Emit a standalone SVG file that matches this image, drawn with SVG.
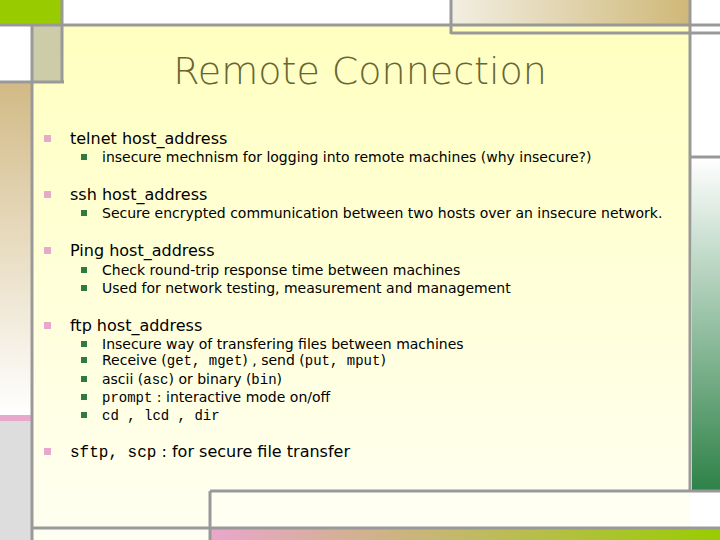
<svg xmlns="http://www.w3.org/2000/svg" width="720" height="540" viewBox="0 0 720 540">
<defs>
<linearGradient id="bg" x1="0" y1="0" x2="0" y2="1"><stop offset="0" stop-color="#ffffc0"/><stop offset="1" stop-color="#fffff2"/></linearGradient>
<linearGradient id="tan" x1="0" y1="0" x2="0" y2="1"><stop offset="0" stop-color="#d2ba86"/><stop offset="1" stop-color="#ffffff"/></linearGradient>
<linearGradient id="tanh" x1="0" y1="0" x2="1" y2="0"><stop offset="0" stop-color="#f2eee2"/><stop offset="1" stop-color="#cfb878"/></linearGradient>
<linearGradient id="grn" x1="0" y1="0" x2="0" y2="1"><stop offset="0" stop-color="#ffffff"/><stop offset="1" stop-color="#2e8248"/></linearGradient>
<linearGradient id="pg" x1="0" y1="0" x2="1" y2="0"><stop offset="0" stop-color="#eaa6cc"/><stop offset="1" stop-color="#99cc00"/></linearGradient>
<style>
.g{stroke:#999;stroke-width:3;fill:none}
.t{font-family:"DejaVu Sans","Liberation Sans",sans-serif;fill:#000}
.l1{font-size:16px}.l2{font-size:14px}
.m{font-family:"Liberation Mono",monospace}
.b1{fill:#e8a8cc}.b2{fill:#2f7a42}
</style>
</defs>
<rect width="720" height="540" fill="#fff"/>
<rect x="33" y="25" width="657" height="515" fill="url(#bg)"/>
<rect x="0" y="0" width="62" height="24" fill="#99cc00"/>
<rect x="33" y="25" width="30" height="57" fill="#cccca8"/>
<rect x="0" y="83" width="31" height="332" fill="url(#tan)"/>
<rect x="0" y="415" width="31" height="6" fill="#e8a8cc"/>
<rect x="0" y="421" width="31" height="119" fill="#dddddd"/>
<rect x="451" y="0" width="238" height="24" fill="url(#tanh)"/>
<rect x="692" y="158" width="28" height="332" fill="url(#grn)"/>
<rect x="210" y="492" width="479" height="36" fill="#fffff2"/>
<rect x="210" y="529" width="510" height="11" fill="url(#pg)"/>
<g id="frame" class="g">
<line x1="62" y1="0" x2="62" y2="82"/>
<line x1="0" y1="25" x2="720" y2="25"/>
<line x1="0" y1="82" x2="64" y2="82"/>
<line x1="32" y1="25" x2="32" y2="540"/>
<line x1="451" y1="0" x2="451" y2="34"/>
<line x1="451" y1="33" x2="720" y2="33"/>
<line x1="690" y1="0" x2="690" y2="492"/>
<line x1="690" y1="157" x2="720" y2="157"/>
<line x1="210" y1="491" x2="720" y2="491"/>
<line x1="210" y1="491" x2="210" y2="540"/>
<line x1="32" y1="528" x2="720" y2="528"/>
</g>
<text x="360" y="84" text-anchor="middle" style="font-family:'DejaVu Sans','Liberation Sans',sans-serif;font-size:38px;font-weight:200;fill:#666633">Remote Connection</text>
<g id="bullets">
<rect class="b1" x="44" y="135" width="7" height="7"/>
<rect class="b1" x="44" y="191" width="7" height="7"/>
<rect class="b1" x="44" y="247" width="7" height="7"/>
<rect class="b1" x="44" y="322" width="7" height="7"/>
<rect class="b1" x="44" y="448" width="7" height="7"/>
<rect class="b2" x="81" y="154" width="6" height="6"/>
<rect class="b2" x="81" y="210" width="6" height="6"/>
<rect class="b2" x="81" y="267" width="6" height="6"/>
<rect class="b2" x="81" y="285" width="6" height="6"/>
<rect class="b2" x="81" y="341" width="6" height="6"/>
<rect class="b2" x="81" y="357" width="6" height="6"/>
<rect class="b2" x="81" y="376" width="6" height="6"/>
<rect class="b2" x="81" y="394" width="6" height="6"/>
<rect class="b2" x="81" y="412" width="6" height="6"/>
</g>
<g id="text" class="t">
<text class="l1" x="70" y="144">telnet host_address</text>
<text class="l2" x="102" y="162">insecure mechnism for logging into remote machines (why insecure?)</text>
<text class="l1" x="70" y="200">ssh host_address</text>
<text class="l2" x="102" y="218">Secure encrypted communication between two hosts over an insecure network.</text>
<text class="l1" x="70" y="256">Ping host_address</text>
<text class="l2" x="102" y="275">Check round-trip response time between machines</text>
<text class="l2" x="102" y="293">Used for network testing, measurement and management</text>
<text class="l1" x="70" y="331">ftp host_address</text>
<text class="l2" x="102" y="349">Insecure way of transfering files between machines</text>
<text class="l2" x="102" y="365">Receive (<tspan class="m">get, mget</tspan>) , send (<tspan class="m">put, mput</tspan>)</text>
<text class="l2" x="102" y="384">ascii (<tspan class="m">asc</tspan>) or binary (<tspan class="m">bin</tspan>)</text>
<text class="l2" x="102" y="402"><tspan class="m">prompt</tspan> : interactive mode on/off</text>
<text class="l2 m" x="102" y="420">cd , lcd , dir</text>
<text class="l1" x="70" y="457"><tspan class="m">sftp, scp</tspan> : for secure file transfer</text>
</g>
</svg>
